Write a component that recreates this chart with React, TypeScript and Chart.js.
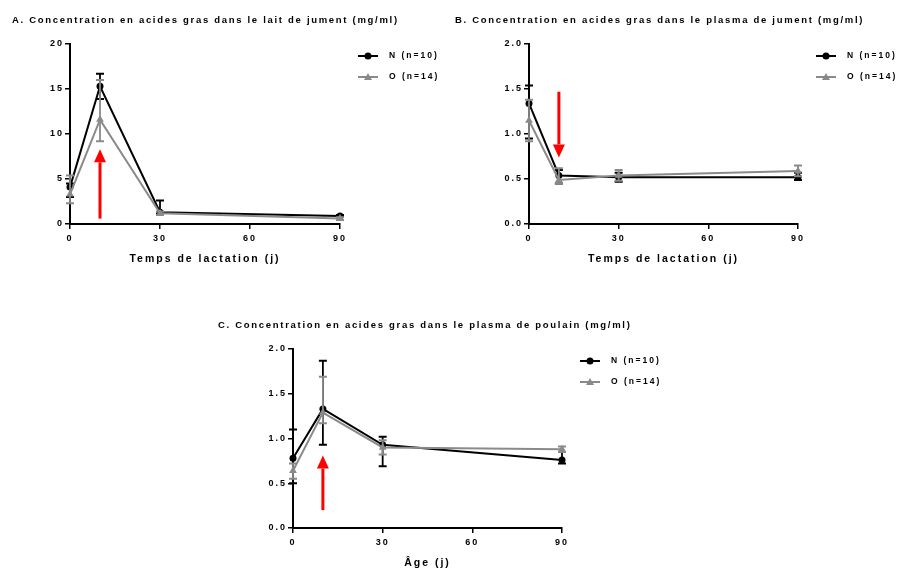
import React, { useEffect, useRef } from "react";
import { Chart, registerables } from "chart.js";
Chart.register(...registerables);

// ---------- data ----------
const days = [0, 10, 30, 90];
const xTicks = [0, 30, 60, 90];
const legendN = "N (n=10)";
const legendO = "O (n=14)";

// A. lait de jument
const titleA = "A. Concentration en acides gras dans le lait de jument (mg/ml)";
const xTitleA = "Temps de lactation (j)";
const yTicksA = [0, 5, 10, 15, 20];
const milkN = [4.1, 15.3, 1.3, 0.9];
const milkNLow = [3.0, 13.9, 1.1, 0.8];
const milkNHigh = [4.5, 16.7, 2.6, 1.0];
const milkO = [3.3, 11.6, 1.2, 0.6];
const milkOLow = [2.3, 9.2, 1.0, 0.45];
const milkOHigh = [5.4, 16.0, 1.4, 0.75];
const arrowA = [10, 0.6, 8.3]; // day, from, to

// B. plasma de jument
const titleB = "B. Concentration en acides gras dans le plasma de jument (mg/ml)";
const xTitleB = "Temps de lactation (j)";
const yTicksB = [0, 0.5, 1.0, 1.5, 2.0];
const mareN = [1.34, 0.54, 0.52, 0.52];
const mareNLow = [0.95, 0.45, 0.47, 0.49];
const mareNHigh = [1.54, 0.6, 0.57, 0.57];
const mareO = [1.15, 0.49, 0.54, 0.59];
const mareOLow = [0.92, 0.45, 0.48, 0.53];
const mareOHigh = [1.38, 0.62, 0.6, 0.65];
const arrowB = [10, 1.47, 0.74];

// C. plasma de poulain
const titleC = "C. Concentration en acides gras dans le plasma de poulain (mg/ml)";
const xTitleC = "Âge (j)";
const yTicksC = [0, 0.5, 1.0, 1.5, 2.0];
const foalN = [0.78, 1.33, 0.93, 0.76];
const foalNLow = [0.5, 0.93, 0.69, 0.72];
const foalNHigh = [1.1, 1.87, 1.02, 0.85];
const foalO = [0.64, 1.29, 0.9, 0.88];
const foalOLow = [0.55, 1.17, 0.82, 0.85];
const foalOHigh = [0.72, 1.69, 0.98, 0.91];
const arrowC = [10, 0.2, 0.81];

// ---------- styles ----------
const FONT = "'Liberation Sans', Arial, sans-serif";
const BLACK = "#000000";
const GREY = "#8a8a8a";
const RED = "#ff0000";
const SPACING = "2px";
const TITLE_SPACING = "1.7px";

const spacingPlugin = {
  id: "spacing",
  beforeDraw(chart: any) {
    (chart.ctx as any).letterSpacing = SPACING;
  },
};

const panelTitlePlugin = {
  id: "panelTitle",
  afterDraw(chart: any) {
    const t = chart.options.plugins.panelTitle;
    if (!t || !t.text) return;
    const ctx = chart.ctx;
    ctx.save();
    (ctx as any).letterSpacing = TITLE_SPACING;
    ctx.font = `bold 9.5px ${FONT}`;
    ctx.fillStyle = BLACK;
    ctx.textAlign = "left";
    ctx.textBaseline = "middle";
    ctx.fillText(t.text, 0, 20);
    ctx.restore();
  },
};

const errorBarPlugin = {
  id: "errbars",
  afterDatasetDraw(chart: any, args: any) {
    const ds = chart.data.datasets[args.index] as any;
    if (!ds.errLow) return;
    const ctx = chart.ctx;
    const xs = chart.scales.x;
    const ys = chart.scales.y;
    ctx.save();
    ctx.strokeStyle = ds.borderColor;
    ds.data.forEach((p: any, i: number) => {
      const px = xs.getPixelForValue(p.x);
      const yl = ys.getPixelForValue(ds.errLow[i]);
      const yh = ys.getPixelForValue(ds.errHigh[i]);
      ctx.lineWidth = 1.8;
      ctx.beginPath();
      ctx.moveTo(px, yl);
      ctx.lineTo(px, yh);
      ctx.stroke();
      ctx.lineWidth = 2;
      ctx.beginPath();
      ctx.moveTo(px - 4, yl);
      ctx.lineTo(px + 4, yl);
      ctx.moveTo(px - 4, yh);
      ctx.lineTo(px + 4, yh);
      ctx.stroke();
    });
    ctx.restore();
  },
};

const arrowPlugin = {
  id: "arrow",
  afterDraw(chart: any) {
    const a = chart.options.plugins.arrow;
    if (!a || !a.def) return;
    const [xv, from, to] = a.def;
    const ctx = chart.ctx;
    const px = chart.scales.x.getPixelForValue(xv);
    const y1 = chart.scales.y.getPixelForValue(from);
    const y2 = chart.scales.y.getPixelForValue(to);
    const dir = y2 < y1 ? -1 : 1;
    const head = 13;
    const baseY = y2 - dir * head;
    ctx.save();
    ctx.strokeStyle = RED;
    ctx.fillStyle = RED;
    ctx.lineWidth = 3;
    ctx.beginPath();
    ctx.moveTo(px, y1);
    ctx.lineTo(px, baseY);
    ctx.stroke();
    ctx.beginPath();
    ctx.moveTo(px - 6, baseY);
    ctx.lineTo(px + 6, baseY);
    ctx.lineTo(px, y2);
    ctx.closePath();
    ctx.fill();
    ctx.restore();
  },
};

const legendPlugin = {
  id: "customLegend",
  afterDraw(chart: any) {
    const ctx = chart.ctx;
    const ca = chart.chartArea;
    const x0 = ca.right + 18;
    const entries = [...chart.data.datasets].reverse();
    ctx.save();
    (ctx as any).letterSpacing = SPACING;
    entries.forEach((ds: any, i: number) => {
      const y = ca.top + 12 + i * 21;
      ctx.strokeStyle = ds.borderColor;
      ctx.fillStyle = ds.borderColor;
      ctx.lineWidth = 2;
      ctx.beginPath();
      ctx.moveTo(x0, y);
      ctx.lineTo(x0 + 20, y);
      ctx.stroke();
      const mx = x0 + 10;
      ctx.beginPath();
      if (ds.pointStyle === "triangle") {
        ctx.moveTo(mx, y - 4);
        ctx.lineTo(mx + 4, y + 3);
        ctx.lineTo(mx - 4, y + 3);
        ctx.closePath();
      } else {
        ctx.arc(mx, y, 3.5, 0, Math.PI * 2);
      }
      ctx.fill();
      ctx.fillStyle = BLACK;
      ctx.font = `bold 8.5px ${FONT}`;
      ctx.textAlign = "left";
      ctx.textBaseline = "middle";
      ctx.fillText(ds.label, x0 + 31, y);
    });
    ctx.restore();
  },
};

type PanelProps = {
  left: number;
  top: number;
  width: number;
  height: number;
  yAxisWidth: number;
  padRight: number;
  title: string;
  xTitle: string;
  yTicks: number[];
  decimals: number;
  nVals: number[];
  nLow: number[];
  nHigh: number[];
  oVals: number[];
  oLow: number[];
  oHigh: number[];
  arrow: number[];
};

function Panel(p: PanelProps) {
  const ref = useRef<HTMLCanvasElement>(null);
  useEffect(() => {
    if (!ref.current) return;
    const toPts = (vals: number[]) => days.map((d, i) => ({ x: d, y: vals[i] }));
    const tickFont = { family: FONT, size: 9, weight: "bold" as const };
    const chart = new Chart(ref.current, {
      type: "line",
      data: {
        datasets: [
          {
            label: legendO,
            data: toPts(p.oVals),
            borderColor: GREY,
            backgroundColor: GREY,
            borderWidth: 2,
            pointStyle: "triangle",
            pointRadius: 4.5,
            pointBorderWidth: 0,
            tension: 0,
            clip: false,
            errLow: p.oLow,
            errHigh: p.oHigh,
          } as any,
          {
            label: legendN,
            data: toPts(p.nVals),
            borderColor: BLACK,
            backgroundColor: BLACK,
            borderWidth: 2,
            pointStyle: "circle",
            pointRadius: 3.5,
            pointBorderWidth: 0,
            tension: 0,
            clip: false,
            errLow: p.nLow,
            errHigh: p.nHigh,
          } as any,
        ],
      },
      options: {
        animation: false,
        responsive: false,
        layout: { padding: { left: 0, right: p.padRight, top: 44, bottom: 0 } },
        plugins: {
          legend: { display: false },
          tooltip: { enabled: false },
          title: { display: false },
          panelTitle: { text: p.title },
          arrow: { def: p.arrow },
        } as any,
        scales: {
          x: {
            type: "linear",
            min: 0,
            max: 90,
            afterBuildTicks: (s: any) => {
              s.ticks = xTicks.map((v) => ({ value: v }));
            },
            afterFit: (s: any) => {
              s.height = 46;
            },
            grid: {
              display: true,
              drawOnChartArea: false,
              drawTicks: true,
              tickLength: 5,
              color: BLACK,
              lineWidth: 1.5,
            },
            border: { display: true, color: BLACK, width: 2 },
            ticks: { color: BLACK, font: tickFont, padding: 4, maxRotation: 0, autoSkip: false },
            title: {
              display: true,
              text: p.xTitle,
              color: BLACK,
              font: { family: FONT, size: 10.5, weight: "bold" },
              padding: { top: 0, bottom: 4.7 },
            },
          },
          y: {
            type: "linear",
            min: p.yTicks[0],
            max: p.yTicks[p.yTicks.length - 1],
            afterBuildTicks: (s: any) => {
              s.ticks = p.yTicks.map((v) => ({ value: v }));
            },
            afterFit: (s: any) => {
              s.width = p.yAxisWidth;
            },
            grid: {
              display: true,
              drawOnChartArea: false,
              drawTicks: true,
              tickLength: 5,
              color: BLACK,
              lineWidth: 1.5,
            },
            border: { display: true, color: BLACK, width: 2 },
            ticks: {
              color: BLACK,
              font: tickFont,
              padding: 1,
              callback: (v: any) => Number(v).toFixed(p.decimals),
            },
          },
        },
      },
      plugins: [spacingPlugin, errorBarPlugin, arrowPlugin, legendPlugin, panelTitlePlugin],
    });
    return () => chart.destroy();
  }, []);
  return (
    <canvas
      ref={ref}
      width={p.width}
      height={p.height}
      style={{ position: "absolute", left: p.left, top: p.top, width: p.width, height: p.height }}
    />
  );
}

export default function App() {
  return (
    <div
      style={{
        position: "fixed",
        left: 0,
        top: 0,
        width: 901,
        height: 574,
        background: "#ffffff",
        overflow: "hidden",
      }}
    >
      <Panel
        left={12}
        top={0}
        width={438}
        height={270}
        yAxisWidth={58}
        padRight={110}
        title={titleA}
        xTitle={xTitleA}
        yTicks={yTicksA}
        decimals={0}
        nVals={milkN}
        nLow={milkNLow}
        nHigh={milkNHigh}
        oVals={milkO}
        oLow={milkOLow}
        oHigh={milkOHigh}
        arrow={arrowA}
      />
      <Panel
        left={455}
        top={0}
        width={446}
        height={270}
        yAxisWidth={74}
        padRight={103}
        title={titleB}
        xTitle={xTitleB}
        yTicks={yTicksB}
        decimals={1}
        nVals={mareN}
        nLow={mareNLow}
        nHigh={mareNHigh}
        oVals={mareO}
        oLow={mareOLow}
        oHigh={mareOHigh}
        arrow={arrowB}
      />
      <Panel
        left={218}
        top={305}
        width={482}
        height={269}
        yAxisWidth={75}
        padRight={138}
        title={titleC}
        xTitle={xTitleC}
        yTicks={yTicksC}
        decimals={1}
        nVals={foalN}
        nLow={foalNLow}
        nHigh={foalNHigh}
        oVals={foalO}
        oLow={foalOLow}
        oHigh={foalOHigh}
        arrow={arrowC}
      />
    </div>
  );
}
